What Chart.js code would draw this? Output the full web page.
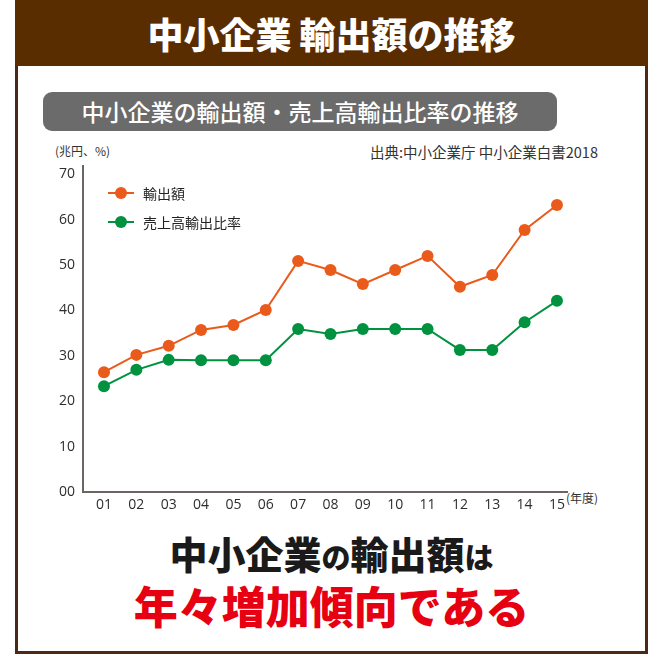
<!DOCTYPE html>
<html>
<head>
<meta charset="utf-8">
<script src="https://cdn.jsdelivr.net/npm/chart.js@4"></script>
<style>
    body { margin: 0; width: 651px; height: 664px; background: #fff; position: relative; overflow: hidden;
           font-family: "Noto Sans CJK JP", sans-serif; }
    .frame { position: absolute; left: 15px; top: 0; width: 627px; height: 651px;
             border: 3px solid #4a2a17; border-top: none; }
    .header { position: absolute; left: 15px; top: 0; width: 633px; height: 66px; background: #5a2d00;
              color: #fff; font-size: 36px; font-weight: 900; text-align: center; line-height: 66px; }
    .pill { position: absolute; left: 43px; top: 92px; width: 514px; height: 39px; background: #6b6b6b;
            border-radius: 9px; color: #fff; font-size: 23px; font-weight: 500; text-align: center; line-height: 39px; }
    .unit { position: absolute; left: 55px; top: 142px; font-size: 12px; color: #333; }
    .source { position: absolute; left: 370px; top: 141px; font-size: 14.5px; color: #333; }
    .nendo { position: absolute; left: 566px; top: 489px; font-size: 12px; color: #333; }
    .msg1 { position: absolute; left: 0; width: 663px; top: 530px; text-align: center; font-size: 38px;
            font-weight: 900; color: #1a1a1a; line-height: 46px; }
    .msg1 .s { font-size: 29px; }
    .msg2 { position: absolute; left: 0; width: 663px; top: 578px; text-align: center; font-size: 44px;
            font-weight: 900; color: #e60012; line-height: 54px; }
    canvas { position: absolute; left: 0; top: 0; }
</style>
</head>
<body>
<div class="frame"></div>
<div class="header">中小企業&nbsp;輸出額の推移</div>
<div class="pill">中小企業の輸出額・売上高輸出比率の推移</div>
<div class="unit">(兆円、%)</div>
<div class="source">出典:中小企業庁&nbsp;中小企業白書2018</div>
<div class="nendo">(年度)</div>
<div class="msg1">中小企業<span class="s">の</span>輸出額<span class="s">は</span></div>
<div class="msg2">年々増加傾向である</div>
<canvas id="lineChart" width="651" height="664"></canvas>
<script>
    // data
    const years = ['01', '02', '03', '04', '05', '06', '07', '08', '09', '10', '11', '12', '13', '14', '15'];
    const exportAmount = [26.4, 30.2, 32.2, 35.7, 36.8, 40.1, 50.9, 48.9, 45.8, 48.9, 52.0, 45.2, 47.8, 57.7, 63.2];
    const exportRatio = [23.3, 26.9, 29.1, 29.0, 29.0, 29.0, 35.9, 34.8, 35.9, 35.9, 35.9, 31.3, 31.3, 37.4, 42.1];
    const yTickLabels = ['00', '10', '20', '30', '40', '50', '60', '70'];
    const seriesNames = ['輸出額', '売上高輸出比率'];

    const orange = '#e95a1b';
    const green = '#00923f';

    function toPoints(values) {
        return values.map(function (v, i) { return {x: i + 1, y: v}; });
    }

    // legend drawn inside the plot area
    const innerLegend = {
        id: 'innerLegend',
        afterDraw: function (chart) {
            const ctx = chart.ctx;
            ctx.save();
            chart.data.datasets.forEach(function (ds, i) {
                const y = 193 + i * 29;
                ctx.strokeStyle = ds.borderColor;
                ctx.lineWidth = 2;
                ctx.beginPath();
                ctx.moveTo(108, y);
                ctx.lineTo(134, y);
                ctx.stroke();
                ctx.fillStyle = ds.backgroundColor;
                ctx.beginPath();
                ctx.arc(121, y, 6, 0, Math.PI * 2);
                ctx.fill();
                ctx.fillStyle = '#222';
                ctx.font = '14px "Noto Sans CJK JP"';
                ctx.textBaseline = 'middle';
                ctx.fillText(ds.label, 143, y + 1);
            });
            ctx.restore();
        }
    };

    const ctx = document.getElementById('lineChart').getContext('2d');
    new Chart(ctx, {
        type: 'line',
        data: {
            datasets: [{
                label: seriesNames[0],
                data: toPoints(exportAmount),
                borderColor: orange,
                backgroundColor: orange,
                borderWidth: 2,
                pointRadius: 6,
                pointHoverRadius: 6,
                pointBorderWidth: 0
            }, {
                label: seriesNames[1],
                data: toPoints(exportRatio),
                borderColor: green,
                backgroundColor: green,
                borderWidth: 2,
                pointRadius: 6,
                pointHoverRadius: 6,
                pointBorderWidth: 0
            }]
        },
        options: {
            responsive: false,
            animation: false,
            devicePixelRatio: 1,
            layout: {
                padding: {left: 0, top: 166, right: 84, bottom: 148}
            },
            plugins: {
                legend: {display: false},
                tooltip: {enabled: false}
            },
            scales: {
                x: {
                    type: 'linear',
                    min: 0.351,
                    max: 15.31,
                    afterBuildTicks: function (scale) {
                        scale.ticks = years.map(function (y, i) { return {value: i + 1}; });
                    },
                    afterFit: function (scale) { scale.height = 24; },
                    grid: {display: false, drawTicks: false},
                    border: {display: true, color: '#6b6563', width: 2},
                    ticks: {
                        autoSkip: false,
                        maxRotation: 0,
                        padding: 5,
                        color: '#2e2e2e',
                        font: {size: 14, family: '"Open Sans", sans-serif'},
                        callback: function (value) { return years[value - 1]; }
                    }
                },
                y: {
                    min: 0,
                    max: 71.8,
                    afterBuildTicks: function (scale) {
                        scale.ticks = yTickLabels.map(function (t, i) { return {value: i * 10}; });
                    },
                    afterFit: function (scale) { scale.width = 83; },
                    grid: {display: false, drawTicks: false},
                    border: {display: true, color: '#6b6563', width: 2},
                    ticks: {
                        padding: 8,
                        color: '#2e2e2e',
                        font: {size: 14, family: '"Open Sans", sans-serif'},
                        callback: function (value) { return yTickLabels[value / 10]; }
                    }
                }
            }
        },
        plugins: [innerLegend]
    });
</script>
</body>
</html>
